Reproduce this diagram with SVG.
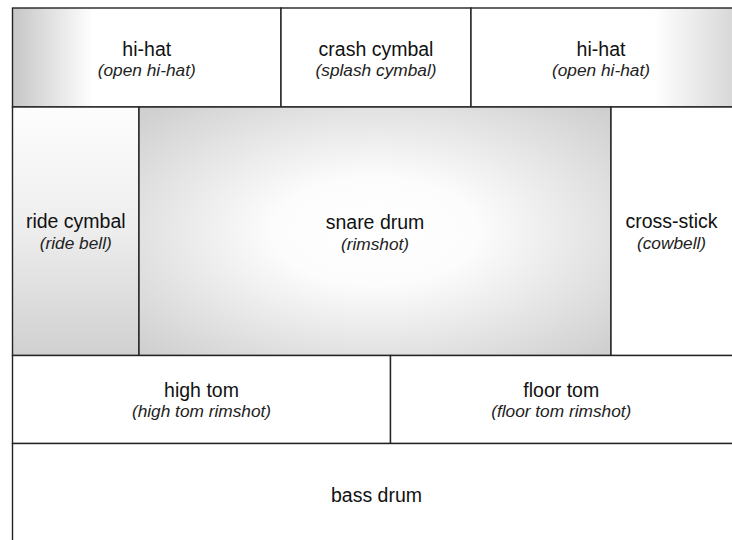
<svg xmlns="http://www.w3.org/2000/svg" width="732" height="540" viewBox="0 0 732 540">
<style>
.box{stroke:#222;stroke-width:1.4;}
.t{font-family:"Liberation Sans",Arial,sans-serif;font-size:19.5px;fill:#111;text-anchor:middle;}
.s{font-family:"Liberation Sans",Arial,sans-serif;font-size:17.3px;font-style:italic;fill:#222;text-anchor:middle;}
</style>
<defs>
<linearGradient id="gL" x1="0" y1="0" x2="1" y2="0">
<stop offset="0" stop-color="#c6c6c6"/>
<stop offset="0.3" stop-color="#ffffff"/>
<stop offset="1" stop-color="#ffffff"/>
</linearGradient>
<linearGradient id="gR" x1="0" y1="0" x2="1" y2="0">
<stop offset="0" stop-color="#ffffff"/>
<stop offset="0.68" stop-color="#ffffff"/>
<stop offset="1" stop-color="#d4d4d4"/>
</linearGradient>
<linearGradient id="gV" x1="0" y1="0" x2="0" y2="1">
<stop offset="0" stop-color="#fdfdfd"/>
<stop offset="0.5" stop-color="#ededed"/>
<stop offset="1" stop-color="#d0d0d0"/>
</linearGradient>
<radialGradient id="gS" cx="0.5" cy="0.5" r="0.72">
<stop offset="0" stop-color="#ffffff"/>
<stop offset="0.3" stop-color="#fcfcfc"/>
<stop offset="1" stop-color="#cccccc"/>
</radialGradient>
</defs>
<g id="hihat-left"><rect class="box" x="12.5" y="8" width="268.5" height="99" fill="url(#gL)"/><text class="t" x="146.75" y="55.5">hi-hat</text><text class="s" x="146.75" y="75.5">(open hi-hat)</text></g>
<g id="crash"><rect class="box" x="281" y="8" width="190" height="99" fill="#fff"/><text class="t" x="376" y="55.5">crash cymbal</text><text class="s" x="376" y="75.5">(splash cymbal)</text></g>
<g id="hihat-right"><rect class="box" x="471" y="8" width="270" height="99" fill="url(#gR)"/><text class="t" x="601" y="55.5">hi-hat</text><text class="s" x="601" y="75.5">(open hi-hat)</text></g>
<g id="ride"><rect class="box" x="12.5" y="107" width="126.5" height="248.5" fill="url(#gV)"/><text class="t" x="75.75" y="227.8">ride cymbal</text><text class="s" x="75.75" y="248.5">(ride bell)</text></g>
<g id="snare"><rect class="box" x="139" y="107" width="472" height="248.5" fill="url(#gS)"/><text class="t" x="375" y="229.3">snare drum</text><text class="s" x="375" y="250">(rimshot)</text></g>
<g id="crossstick"><rect class="box" x="611" y="107" width="130" height="248.5" fill="#fff"/><text class="t" x="671.5" y="228.3">cross-stick</text><text class="s" x="671.5" y="249">(cowbell)</text></g>
<g id="hightom"><rect class="box" x="12.5" y="355.5" width="378" height="88" fill="#fff"/><text class="t" x="201.5" y="396.7">high tom</text><text class="s" x="201.5" y="417.3">(high tom rimshot)</text></g>
<g id="floortom"><rect class="box" x="390.5" y="355.5" width="350.5" height="88" fill="#fff"/><text class="t" x="561.25" y="396.7">floor tom</text><text class="s" x="561.25" y="417.3">(floor tom rimshot)</text></g>
<g id="bass"><rect class="box" x="12.5" y="443.5" width="728.5" height="110" fill="#fff"/><text class="t" x="376.5" y="501.5">bass drum</text></g>
<g id="connectors"></g>
</svg>
